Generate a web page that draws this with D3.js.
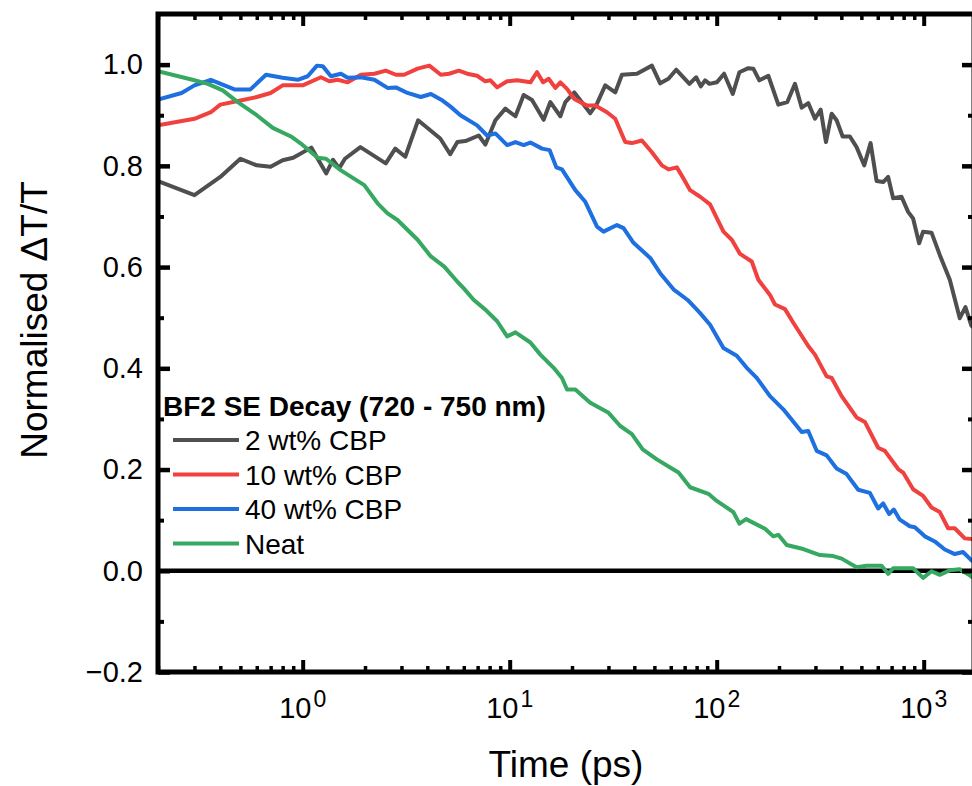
<!DOCTYPE html>
<html>
<head>
<meta charset="utf-8">
<script src="https://cdn.jsdelivr.net/npm/d3@7"></script>
<style>
  body { margin: 0; background: #fff; }
  svg { display: block; font-family: "Liberation Sans", Arial, sans-serif; }
</style>
</head>
<body>
<div id="chart"></div>
<script>
// Series names for the legend
const seriesNames = ["2 wt% CBP", "10 wt% CBP", "40 wt% CBP", "Neat"];
const legendTitle = "BF2 SE Decay (720 - 750 nm)";

// 2 wt% CBP : time (ps) and normalised dT/T
const t2 = [0.2,0.3,0.4,0.5,0.6,0.7,0.8,0.9,1.1,1.3,1.4,1.5,1.6,1.9,2.52,2.80,3.13,3.61,4.62,5.16,5.59,6.11,7.09,7.63,8.53,9.53,10.66,11.68,12.82,14.59,15.72,17.57,18.57,20.52,24.51,26.41,28.95,32.35,34.85,41.18,48.64,53.33,58.48,63.72,73.86,79.57,83.81,87.9,92.2,100.1,108.6,119.6,128.7,142.2,150.3,160.7,177.6,198.5,219.4,238.9,257.4,276.9,298.4,317.9,337.2,359.3,379.7,405.9,440,474.1,515.9,553.9,592.2,637.3,673.4,711.9,781.3,841.1,888.9,950.4,993.4,1091,1196,1337,1494,1591,1701,1750];
const v2 = [0.77,0.742,0.778,0.814,0.801,0.798,0.811,0.816,0.836,0.785,0.812,0.795,0.814,0.837,0.805,0.834,0.818,0.890,0.854,0.823,0.847,0.849,0.860,0.842,0.890,0.913,0.898,0.940,0.930,0.891,0.926,0.898,0.926,0.945,0.904,0.923,0.959,0.945,0.980,0.982,0.998,0.963,0.972,0.990,0.962,0.975,0.957,0.969,0.962,0.965,0.982,0.942,0.985,0.993,0.992,0.969,0.978,0.921,0.926,0.962,0.915,0.924,0.893,0.911,0.847,0.903,0.890,0.858,0.858,0.837,0.801,0.845,0.770,0.768,0.778,0.736,0.739,0.709,0.696,0.647,0.670,0.668,0.624,0.575,0.499,0.521,0.484,0.48];

// 10 wt% CBP
const t10 = [0.2,0.3,0.36,0.4,0.5,0.6,0.7,0.8,1.0,1.225,1.345,1.475,1.65,1.91,2.22,2.52,2.82,3.09,3.59,4.09,4.65,5.10,5.68,6.23,6.96,7.63,8.07,8.70,9.72,10.86,12.59,13.56,14.49,15.43,16.62,17.57,18.92,20.52,23.63,25.91,29.51,32.35,36.15,38.95,43.52,48.64,54.35,58.48,64.22,69.1,74.4,83.2,92.9,107.8,118.3,129.7,147.7,158.9,180.9,191.3,213.8,234.5,276.9,298.4,339.8,359.3,401.4,474.1,519.9,602.6,649.3,752.8,795.7,888.9,993.4,1091,1196,1312,1413,1579,1707,1750];
const v10 = [0.880,0.893,0.906,0.921,0.929,0.936,0.944,0.959,0.959,0.975,0.967,0.970,0.965,0.980,0.982,0.988,0.980,0.980,0.992,0.998,0.980,0.982,0.988,0.982,0.978,0.967,0.969,0.955,0.967,0.969,0.965,0.985,0.965,0.972,0.954,0.965,0.952,0.932,0.919,0.919,0.906,0.893,0.847,0.845,0.850,0.827,0.801,0.793,0.797,0.775,0.752,0.739,0.724,0.670,0.654,0.626,0.611,0.575,0.545,0.526,0.517,0.490,0.444,0.427,0.384,0.381,0.345,0.303,0.294,0.243,0.237,0.201,0.194,0.161,0.148,0.125,0.116,0.084,0.084,0.064,0.063,0.06];

// 40 wt% CBP
const t40 = [0.2,0.26,0.3,0.36,0.468,0.559,0.665,0.8,0.946,1.057,1.172,1.249,1.369,1.530,1.65,1.91,2.22,2.57,2.82,3.21,3.72,4.16,4.74,5.18,5.78,6.96,7.78,8.53,9.72,10.66,11.68,12.59,14.33,15.6,16.80,17.89,20.75,23.19,26.41,28.41,32.97,35.48,39.64,47.74,53.33,61.83,72.4,83.2,92.9,107.8,125.0,139.7,156.1,180.9,209.8,257.4,276.9,304.1,339.8,379.7,424.2,482.6,549.5,602.6,637.3,681,717.5,767,857,906,1013,1131,1265,1413,1549,1707,1750];
const v40 = [0.931,0.944,0.959,0.970,0.951,0.951,0.980,0.974,0.970,0.977,0.998,0.997,0.977,0.982,0.974,0.975,0.970,0.954,0.955,0.944,0.936,0.942,0.929,0.917,0.900,0.880,0.860,0.864,0.841,0.847,0.841,0.846,0.834,0.831,0.797,0.793,0.752,0.729,0.680,0.670,0.683,0.677,0.648,0.618,0.588,0.556,0.535,0.509,0.486,0.440,0.425,0.401,0.381,0.345,0.319,0.274,0.276,0.237,0.228,0.202,0.191,0.160,0.154,0.123,0.133,0.112,0.121,0.101,0.088,0.086,0.068,0.058,0.042,0.033,0.037,0.020,0.02];

// Neat film
const tNeat = [0.2,0.3,0.348,0.411,0.486,0.6,0.717,0.878,0.98,1.181,1.296,1.53,1.984,2.30,2.57,2.87,3.59,4.16,4.83,5.59,6.00,6.71,7.63,8.70,9.72,10.66,12.59,14.07,16.31,17.89,18.92,20.75,24.51,30.04,34.2,38.95,43.9,51.4,59.6,65.4,74.4,91.2,100.1,120.4,128.7,138.7,171.2,187.7,198.5,217.9,262.0,315.4,365.7,401.4,474.1,529.9,626.1,673.4,711.9,888.9,993.4,1091,1196,1337,1494,1669,1750];
const vNeat = [0.987,0.969,0.962,0.949,0.926,0.900,0.875,0.858,0.844,0.816,0.814,0.791,0.762,0.726,0.706,0.693,0.654,0.621,0.601,0.571,0.558,0.535,0.516,0.493,0.463,0.471,0.451,0.427,0.401,0.381,0.358,0.358,0.332,0.312,0.286,0.270,0.240,0.220,0.204,0.194,0.165,0.152,0.138,0.116,0.093,0.102,0.083,0.068,0.071,0.051,0.043,0.031,0.029,0.024,0.007,0.010,0.010,-0.006,0.005,0.005,-0.014,-0.001,-0.008,0.001,0.003,-0.009,-0.015];

// Axis ticks
const xMajor = [1, 10, 100, 1000];
const xMinor = [0.2,0.3,0.4,0.5,0.6,0.7,0.8,0.9,2,3,4,5,6,7,8,9,20,30,40,50,60,70,80,90,200,300,400,500,600,700,800,900];
const yMajor = [-0.2, 0, 0.2, 0.4, 0.6, 0.8, 1.0];
const yMinor = [-0.1, 0.1, 0.3, 0.5, 0.7, 0.9];

const colors = ["#4f4f4f", "#f0413f", "#1e6fe0", "#36a862"];

const width = 972;
const height = 786;
const margin = { top: 14, right: -2, bottom: 114, left: 158 };

const svg = d3.select("#chart")
  .append("svg")
  .attr("width", width)
  .attr("height", height);

svg.append("rect").attr("width", width).attr("height", height).attr("fill", "#fff");

const xScale = d3.scaleLog()
  .domain([0.2, 1750])
  .range([margin.left, width - margin.right]);

const yScale = d3.scaleLinear()
  .domain([-0.2, 1.1])
  .range([height - margin.bottom, margin.top]);

const x0 = margin.left, x1 = width - margin.right;
const y0 = height - margin.bottom, y1 = margin.top;

svg.append("clipPath").attr("id", "clip")
  .append("rect")
  .attr("x", x0).attr("y", y1)
  .attr("width", x1 - x0).attr("height", y0 - y1);

//Zero line
svg.append("line")
  .attr("x1", x0).attr("x2", x1)
  .attr("y1", yScale(0)).attr("y2", yScale(0))
  .attr("stroke", "#000").attr("stroke-width", 4.5);

//Data lines
const series = [
  { name: seriesNames[0], t: t2, v: v2 },
  { name: seriesNames[1], t: t10, v: v10 },
  { name: seriesNames[2], t: t40, v: v40 },
  { name: seriesNames[3], t: tNeat, v: vNeat }
];

const line = d3.line()
  .x(d => xScale(d[0]))
  .y(d => yScale(d[1]));

svg.append("g")
  .attr("clip-path", "url(#clip)")
  .selectAll("path")
  .data(series)
  .enter()
  .append("path")
  .attr("d", s => line(s.t.map((t, i) => [t, s.v[i]])))
  .attr("fill", "none")
  .attr("stroke", (s, i) => colors[i])
  .attr("stroke-width", 4)
  .attr("stroke-linejoin", "round");

//Axes, ticks point inward on all four sides
function tidy(g, w) {
  g.select(".domain").remove();
  g.selectAll(".tick line").attr("stroke", "#000").attr("stroke-width", w);
}

svg.append("g")
  .attr("transform", `translate(0,${y0})`)
  .call(d3.axisBottom(xScale).tickValues(xMinor).tickSize(-6).tickFormat(""))
  .call(g => tidy(g, 3.5));
svg.append("g")
  .attr("transform", `translate(0,${y0})`)
  .call(d3.axisBottom(xScale).tickValues(xMajor).tickSize(-12).tickFormat(""))
  .call(g => tidy(g, 4));
svg.append("g")
  .attr("transform", `translate(0,${y1})`)
  .call(d3.axisTop(xScale).tickValues(xMinor).tickSize(-6).tickFormat(""))
  .call(g => tidy(g, 3.5));
svg.append("g")
  .attr("transform", `translate(0,${y1})`)
  .call(d3.axisTop(xScale).tickValues(xMajor).tickSize(-12).tickFormat(""))
  .call(g => tidy(g, 4));

svg.append("g")
  .attr("transform", `translate(${x0},0)`)
  .call(d3.axisLeft(yScale).tickValues(yMinor).tickSize(-6).tickFormat(""))
  .call(g => tidy(g, 4));
svg.append("g")
  .attr("transform", `translate(${x0},0)`)
  .call(d3.axisLeft(yScale).tickValues(yMajor).tickSize(-12).tickPadding(15).tickFormat(d3.format(".1f")))
  .call(g => tidy(g, 4.5))
  .call(g => g.selectAll("text").attr("font-size", 29).attr("fill", "#000").attr("font-family", "Liberation Sans, Arial, sans-serif"));
svg.append("g")
  .attr("transform", `translate(${x1},0)`)
  .call(d3.axisRight(yScale).tickValues(yMinor).tickSize(-6).tickFormat(""))
  .call(g => tidy(g, 4));
svg.append("g")
  .attr("transform", `translate(${x1},0)`)
  .call(d3.axisRight(yScale).tickValues(yMajor).tickSize(-12).tickFormat(""))
  .call(g => tidy(g, 4.5));

//Frame
svg.append("rect")
  .attr("x", x0).attr("y", y1)
  .attr("width", x1 - x0).attr("height", y0 - y1)
  .attr("fill", "none").attr("stroke", "#000").attr("stroke-width", 5);

//Power-of-ten labels
const xLabels = svg.append("g")
  .selectAll("text")
  .data(xMajor)
  .enter()
  .append("text")
  .attr("x", d => xScale(d))
  .attr("y", 718)
  .attr("text-anchor", "middle")
  .attr("font-size", 29);
xLabels.append("tspan").text("10");
xLabels.append("tspan")
  .attr("dx", 2)
  .attr("dy", -11)
  .attr("font-size", 23)
  .text(d => Math.round(Math.log10(d)));

//Axis titles
svg.append("text")
  .attr("x", (x0 + x1) / 2)
  .attr("y", 777)
  .attr("text-anchor", "middle")
  .attr("font-size", 37)
  .text("Time (ps)");

svg.append("text")
  .attr("transform", "translate(47,320) rotate(-90)")
  .attr("text-anchor", "middle")
  .attr("font-size", 37)
  .text("Normalised \u0394T/T");

//Legend
const legend = svg.append("g");
legend.append("text")
  .attr("x", 163)
  .attr("y", 416)
  .attr("font-size", 28)
  .attr("font-weight", "bold")
  .text(legendTitle);

const items = legend.selectAll("g.item")
  .data(seriesNames)
  .enter()
  .append("g")
  .attr("class", "item")
  .attr("transform", (d, i) => `translate(0,${440 + i * 34.5})`);
items.append("line")
  .attr("x1", 173).attr("x2", 239)
  .attr("stroke", (d, i) => colors[i])
  .attr("stroke-width", 4);
items.append("text")
  .attr("x", 245)
  .attr("y", 10)
  .attr("font-size", 28)
  .text(d => d);
</script>
</body>
</html>
